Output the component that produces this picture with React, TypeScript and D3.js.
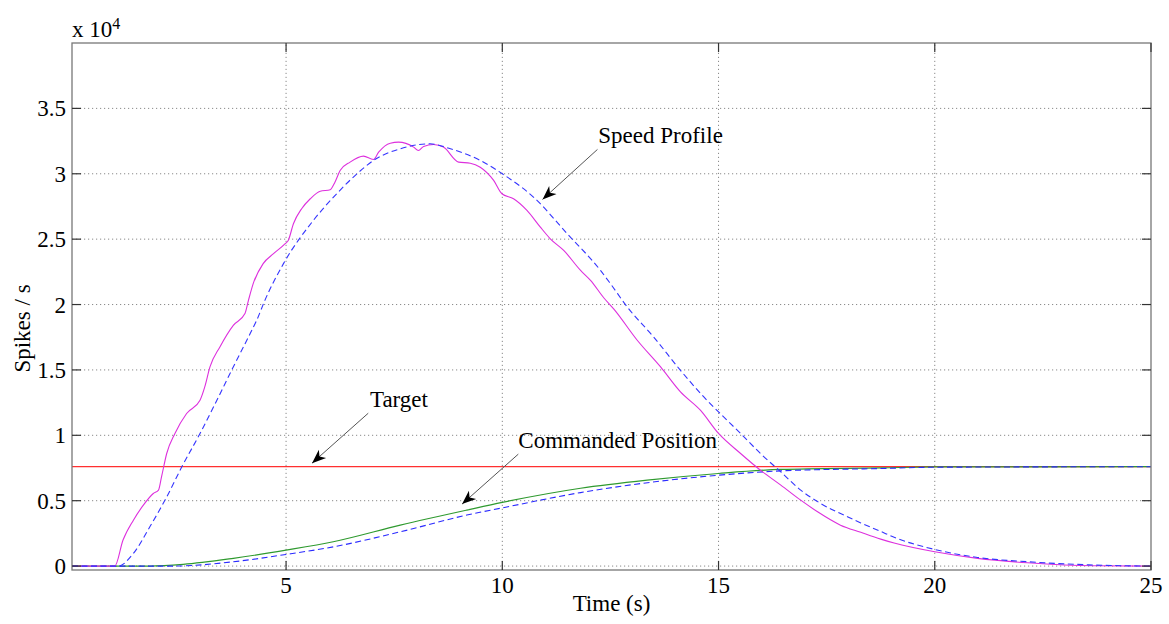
import React, { useEffect, useRef } from 'react';
import * as d3 from 'd3';

// speed profile (spikes/s), measured
const speedTime = [0.05, 1.04, 1.23, 1.47, 1.7, 1.93, 2.05, 2.12, 2.24, 2.43, 2.7, 3.01, 3.12, 3.24, 3.47, 3.78, 4.05, 4.13, 4.24, 4.47, 4.71, 4.98, 5.05, 5.17, 5.36, 5.56, 5.79, 6.02, 6.13, 6.25, 6.48, 6.79, 7.02, 7.14, 7.41, 7.6, 7.95, 8.06, 8.18, 8.41, 8.64, 8.99, 9.26, 9.49, 9.8, 9.99, 10.26, 10.57, 10.88, 11.11, 11.42, 11.81, 12.04, 12.35, 12.58, 13.12, 13.66, 14.12, 14.58, 15.0, 15.51, 15.97, 16.44, 16.9, 17.29, 17.82, 18.29, 18.75, 19.06, 20.0, 20.99, 22.15, 23.69, 25];
const speedActual = [0, 0, 1990, 3510, 4660, 5550, 5810, 6820, 8610, 10140, 11670, 12680, 13700, 15230, 16760, 18410, 19310, 20320, 21600, 23130, 23890, 24650, 24900, 26180, 27330, 28090, 28670, 28780, 29360, 30250, 30890, 31350, 31090, 31650, 32340, 32420, 32040, 31780, 32090, 32240, 32040, 30890, 30810, 30500, 29490, 28470, 28090, 27200, 25920, 25030, 24140, 22610, 21850, 20500, 19650, 17270, 15230, 13320, 11920, 10140, 8610, 7330, 6190, 5040, 4150, 3130, 2580, 2060, 1760, 1090, 590, 250, 20, 0];

// speed profile, reference (dashed)
const refSpeedTime = [0.05, 1.12, 1.47, 1.85, 2.24, 2.59, 3.01, 3.4, 3.74, 4.17, 4.32, 4.51, 4.94, 5.63, 6.17, 6.64, 7.02, 7.64, 8.33, 8.8, 9.49, 10.0, 10.72, 11.5, 12.27, 12.5, 12.89, 13.5, 14.12, 14.66, 15.0, 15.51, 15.97, 16.44, 16.9, 17.36, 17.98, 18.29, 18.75, 19.06, 20.0, 20.99, 22.15, 23.69, 25];
const refSpeed = [0, 0, 970, 3000, 5290, 7590, 10140, 12680, 14970, 17780, 18790, 20320, 23130, 26430, 28470, 30000, 31020, 31910, 32290, 31910, 31020, 30000, 28220, 25420, 22610, 21600, 19810, 17520, 14970, 12930, 11790, 10140, 8610, 7200, 5810, 4790, 3770, 3300, 2650, 2200, 1270, 660, 330, 80, 0];

// commanded position and its reference
const posTime = [0.05, 1.85, 2.62, 3.78, 5.0, 6.09, 7.64, 9.18, 10.0, 11.81, 13.35, 15.0, 16.44, 18.75, 20.0, 25];
const commandedPos = [0, 0, 130, 590, 1220, 1860, 3130, 4280, 4870, 5950, 6570, 7080, 7390, 7510, 7580, 7600];
const refPosTime = [0.05, 2.39, 3.78, 5.0, 6.09, 7.64, 9.18, 10.0, 11.81, 15.0, 16.44, 18.75, 20.0, 25];
const refPos = [0, 0, 330, 890, 1470, 2620, 3900, 4450, 5620, 6950, 7280, 7460, 7560, 7600];

const targetValue = 7600;

const xTicks = [5, 10, 15, 20, 25];
const yTicks = [0, 5000, 10000, 15000, 20000, 25000, 30000, 35000];

// annotations: text anchor, arrow tail and arrow tip in data units
const notes = [
  { label: 'Speed Profile', tx: 12.22, ty: 32320, x1: 12.2, y1: 31860, x2: 10.93, y2: 28040 },
  { label: 'Target', tx: 6.94, ty: 12150, x1: 6.9, y1: 11690, x2: 5.6, y2: 7870 },
  { label: 'Commanded Position', tx: 10.37, ty: 9020, x1: 10.37, y1: 8560, x2: 9.07, y2: 4740 },
];

const W = 1169;
const H = 624;
const margin = { top: 43, right: 18, bottom: 54, left: 72 };
const font = "'Liberation Serif', 'Times New Roman', 'DejaVu Serif', serif";

function Chart() {
  const ref = useRef<SVGSVGElement>(null);

  useEffect(() => {
    const svg = d3.select(ref.current);
    svg.selectAll('*').remove();

    const x = d3.scaleLinear().domain([0.05, 25]).range([margin.left, W - margin.right]);
    const y = d3.scaleLinear().domain([-300, 40000]).range([H - margin.bottom, margin.top]);
    const x0 = margin.left, x1 = W - margin.right, y0 = H - margin.bottom, y1 = margin.top;

    const defs = svg.append('defs');
    defs.append('marker')
      .attr('id', 'ah')
      .attr('markerUnits', 'userSpaceOnUse')
      .attr('viewBox', '-14 -7 16 14')
      .attr('markerWidth', 16)
      .attr('markerHeight', 14)
      .attr('refX', 0)
      .attr('refY', 0)
      .attr('orient', 'auto')
      .append('path')
      .attr('d', 'M0,0 L-14,-5.5 L-10,0 L-14,5.5 Z')
      .attr('fill', '#000');
    defs.append('clipPath').attr('id', 'plot')
      .append('rect').attr('x', x0).attr('y', y1).attr('width', x1 - x0).attr('height', y0 - y1);

    // grid
    const grid = svg.append('g').attr('stroke', '#8a8a8a').attr('stroke-width', 1).attr('stroke-dasharray', '1.2,2.8');
    grid.selectAll('.gx').data(xTicks.filter(d => d < 25)).enter().append('line')
      .attr('x1', d => x(d)).attr('x2', d => x(d)).attr('y1', y0).attr('y2', y1);
    grid.selectAll('.gy').data(yTicks).enter().append('line')
      .attr('y1', d => y(d)).attr('y2', d => y(d)).attr('x1', x0).attr('x2', x1);

    // series
    const plot = svg.append('g').attr('clip-path', 'url(#plot)').attr('fill', 'none');
    const line = d3.line<[number, number]>().x(d => x(d[0])).y(d => y(d[1])).curve(d3.curveMonotoneX);
    const zip = (t: number[], v: number[]) => t.map((d, i) => [d, v[i]] as [number, number]);

    plot.append('path').attr('d', line([[0.05, targetValue], [25, targetValue]]))
      .attr('stroke', '#ff3030').attr('stroke-width', 1.2);
    plot.append('path').attr('d', line(zip(posTime, commandedPos)))
      .attr('stroke', '#2f9a2f').attr('stroke-width', 1.2);
    plot.append('path').attr('d', line(zip(refPosTime, refPos)))
      .attr('stroke', '#2a2aff').attr('stroke-width', 1.1).attr('stroke-dasharray', '6,3.5');
    plot.append('path').attr('d', line(zip(speedTime, speedActual)))
      .attr('stroke', '#dd30dd').attr('stroke-width', 1.1);
    plot.append('path').attr('d', line(zip(refSpeedTime, refSpeed)))
      .attr('stroke', '#3535ff').attr('stroke-width', 1.1).attr('stroke-dasharray', '6,3.5');

    // box and ticks
    svg.append('rect').attr('x', x0).attr('y', y1).attr('width', x1 - x0).attr('height', y0 - y1)
      .attr('fill', 'none').attr('stroke', '#777').attr('stroke-width', 1.3);
    const tl = 9;
    const ticks = svg.append('g').attr('stroke', '#333').attr('stroke-width', 1.2);
    xTicks.forEach(d => {
      ticks.append('line').attr('x1', x(d)).attr('x2', x(d)).attr('y1', y0).attr('y2', y0 - tl);
      ticks.append('line').attr('x1', x(d)).attr('x2', x(d)).attr('y1', y1).attr('y2', y1 + tl);
    });
    yTicks.forEach(d => {
      ticks.append('line').attr('y1', y(d)).attr('y2', y(d)).attr('x1', x0).attr('x2', x0 + tl);
      ticks.append('line').attr('y1', y(d)).attr('y2', y(d)).attr('x1', x1).attr('x2', x1 - tl);
    });

    const txt = svg.append('g').style('font-family', font).style('font-size', '23px').attr('fill', '#000');
    txt.selectAll('.xl').data(xTicks).enter().append('text')
      .attr('x', d => x(d)).attr('y', y0 + 23).attr('text-anchor', 'middle').text(d => d);
    txt.selectAll('.yl').data(yTicks).enter().append('text')
      .attr('x', x0 - 6).attr('y', d => y(d)).attr('dy', '0.35em').attr('text-anchor', 'end')
      .text(d => d3.format('~g')(d / 10000));

    const ex = txt.append('text').attr('x', x0).attr('y', 37);
    ex.append('tspan').text('x 10');
    ex.append('tspan').attr('dy', -8).style('font-size', '16px').text('4');

    txt.append('text').attr('x', (x0 + x1) / 2).attr('y', H - 13).attr('text-anchor', 'middle').text('Time (s)');
    txt.append('text').attr('transform', `translate(30,${(y0 + y1) / 2 + 22}) rotate(-90)`)
      .attr('text-anchor', 'middle').text('Spikes / s');

    // annotations
    const ann = svg.append('g');
    notes.forEach(n => {
      ann.append('line')
        .attr('x1', x(n.x1)).attr('y1', y(n.y1)).attr('x2', x(n.x2)).attr('y2', y(n.y2))
        .attr('stroke', '#555').attr('stroke-width', 1).attr('marker-end', 'url(#ah)');
      txt.append('text').attr('x', x(n.tx)).attr('y', y(n.ty)).text(n.label);
    });
  }, []);

  return <svg ref={ref} width={W} height={H} style={{ position: 'absolute', left: 0, top: 0, background: '#fff' }} />;
}

export default function App() {
  return <Chart />;
}
